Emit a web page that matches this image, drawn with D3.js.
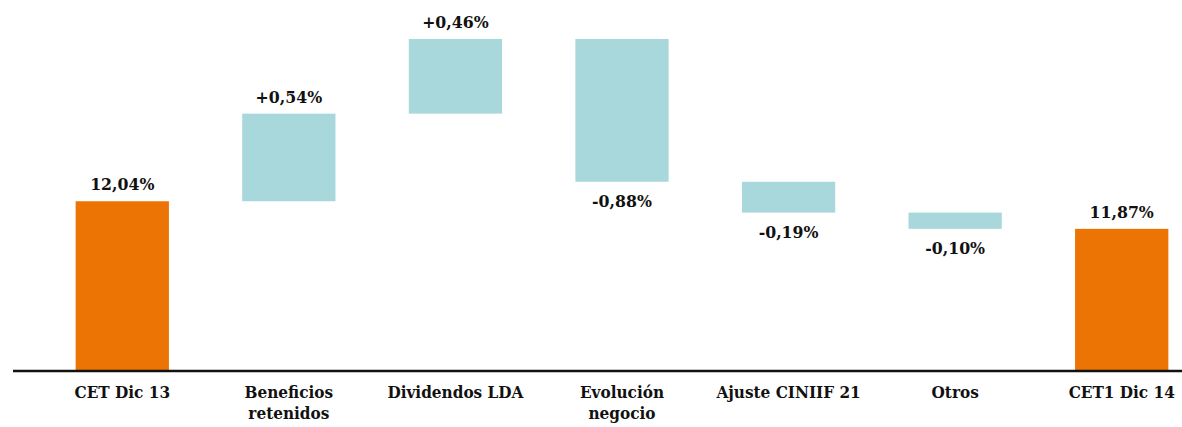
<!DOCTYPE html>
<html>
<head>
    <meta charset="utf-8" />
    <title>CET1 waterfall</title>
    <script type="text/javascript" src="https://cdn.jsdelivr.net/npm/d3@7/dist/d3.min.js"></script>
    <style>
        body { margin: 0; background: #fff; }
        text { font-family: "DejaVu Serif", serif; font-weight: bold; font-stretch: condensed; fill: #111; }
    </style>
</head>
<body>
    <script type="text/javascript">
        // categories, each as one or two label lines
        var categories = ["CET Dic 13", "Beneficios retenidos", "Dividendos LDA", "Evolución negocio",
            "Ajuste CINIIF 21", "Otros", "CET1 Dic 14"];
        var labelLines = [["CET Dic 13"], ["Beneficios", "retenidos"], ["Dividendos LDA"], ["Evolución", "negocio"],
            ["Ajuste CINIIF 21"], ["Otros"], ["CET1 Dic 14"]];
        // start value, then changes, then end total
        var values = [12.04, 0.54, 0.46, -0.88, -0.19, -0.10, 11.87];
        var isTotal = [true, false, false, false, false, false, true];
        var valueLabels = ["12,04%", "+0,54%", "+0,46%", "-0,88%", "-0,19%", "-0,10%", "11,87%"];

        var width = 1182, height = 427;
        var baseY = 370, topY = 39;
        var axisMin = 11.0;

        // running totals for floating bars
        var run = 0;
        var bars = values.map(function (v, i) {
            var lo, hi;
            if (isTotal[i]) { lo = axisMin; hi = v; run = v; }
            else { lo = Math.min(run, run + v); hi = Math.max(run, run + v); run += v; }
            return { cat: categories[i], v: v, lo: lo, hi: hi, total: isTotal[i], label: valueLabels[i], lines: labelLines[i] };
        });

        var svg = d3.select("body").append("svg")
            .attr("width", width)
            .attr("height", height);

        var x = d3.scaleBand()
            .domain(categories)
            .range([39, 1205])
            .paddingInner(0.44)
            .paddingOuter(0.22);

        var y = d3.scaleLinear()
            .domain([axisMin, d3.max(bars, function (d) { return d.hi; })])
            .range([baseY, topY]);

        svg.selectAll("rect.bar")
            .data(bars)
            .enter().append("rect")
            .attr("class", "bar")
            .attr("x", function (d) { return x(d.cat); })
            .attr("width", x.bandwidth())
            .attr("y", function (d) { return y(d.hi); })
            .attr("height", function (d) { return y(d.lo) - y(d.hi); })
            .attr("fill", function (d) { return d.total ? "#ec7405" : "#a8d8db"; });

        svg.selectAll("text.value")
            .data(bars)
            .enter().append("text")
            .attr("class", "value")
            .attr("text-anchor", "middle")
            .attr("font-size", 17.5)
            .attr("x", function (d) { return x(d.cat) + x.bandwidth() / 2; })
            .attr("y", function (d) { return d.v >= 0 ? y(d.hi) - 11 : y(d.lo) + 25; })
            .text(function (d) { return d.label; });

        // baseline
        svg.append("line")
            .attr("x1", 13).attr("x2", width)
            .attr("y1", baseY + 1).attr("y2", baseY + 1)
            .attr("stroke", "#111")
            .attr("stroke-width", 2.5);

        var cats = svg.selectAll("text.cat")
            .data(bars)
            .enter().append("text")
            .attr("class", "cat")
            .attr("text-anchor", "middle")
            .attr("font-size", 17)
            .attr("x", function (d) { return x(d.cat) + x.bandwidth() / 2; })
            .attr("y", 398);

        cats.selectAll("tspan")
            .data(function (d) { return d.lines.map(function (l) { return { t: l, x: x(d.cat) + x.bandwidth() / 2 }; }); })
            .enter().append("tspan")
            .attr("x", function (d) { return d.x; })
            .attr("dy", function (d, i) { return i ? 21 : 0; })
            .text(function (d) { return d.t; });
    </script>
</body>
</html>
